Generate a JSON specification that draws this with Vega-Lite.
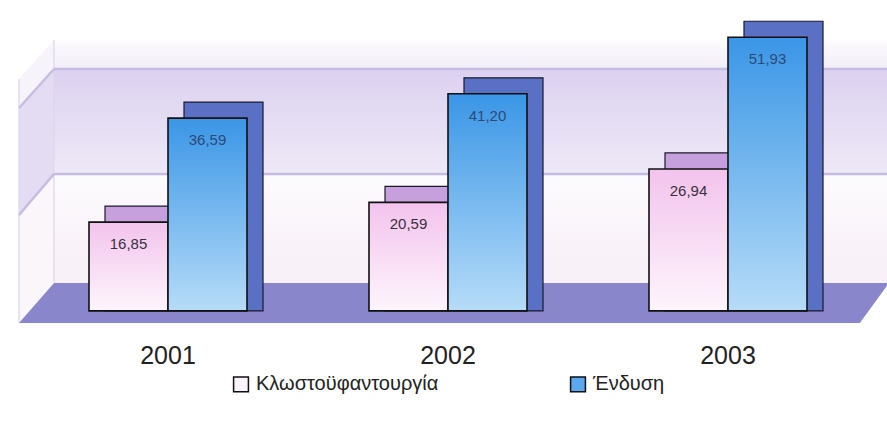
{
  "$schema": "https://vega.github.io/schema/vega-lite/v6.json",
  "width": 858,
  "height": 332,
  "padding": {"left": 17, "top": 0, "right": 12, "bottom": 0},
  "background": "white",
  "config": {
    "view": {"stroke": null},
    "font": "Liberation Sans",
    "locale": {"number": {"decimal": ",", "thousands": ".", "grouping": [3], "currency": ["", " €"]}}
  },
  "datasets": {
    "bars": [
      {"year": "2001", "series": "Κλωστοϋφαντουργία", "value": 16.85},
      {"year": "2001", "series": "Ένδυση", "value": 36.59},
      {"year": "2002", "series": "Κλωστοϋφαντουργία", "value": 20.59},
      {"year": "2002", "series": "Ένδυση", "value": 41.20},
      {"year": "2003", "series": "Κλωστοϋφαντουργία", "value": 26.94},
      {"year": "2003", "series": "Ένδυση", "value": 51.93}
    ],
    "floor": [
      {"fx": 0, "lo": -2.27, "hi": -2.27},
      {"fx": 4.08, "lo": -2.27, "hi": 5.3},
      {"fx": 98.0, "lo": -2.27, "hi": 5.3},
      {"fx": 101.4, "lo": 5.3, "hi": 5.3}
    ],
    "gridlines": [
      {"x": 4.08, "x2": 101.4, "y": 45.9, "y2": 45.9},
      {"x": 4.08, "x2": 101.4, "y": 26.0, "y2": 26.0},
      {"x": 0, "x2": 4.08, "y": 38.5, "y2": 45.9},
      {"x": 0, "x2": 4.08, "y": 18.2, "y2": 26.0}
    ],
    "edges": [
      {"x": 0, "x2": 0, "y": -2.27, "y2": 44.0},
      {"x": 4.08, "x2": 4.08, "y": 5.3, "y2": 51.4}
    ]
  },
  "layer": [
    {
      "encoding": {
        "x": {"type": "quantitative", "scale": {"domain": [0, 100], "nice": false, "zero": false}, "axis": null},
        "y": {"type": "quantitative", "scale": {"domain": [-4, 59], "nice": false, "zero": false}, "axis": null}
      },
      "layer": [
        {
          "data": {"values": [{"x": 4.08, "x2": 101.4, "y": 5.3, "y2": 26.0}]},
          "mark": {"type": "rect", "fill": {"gradient": "linear", "x1": 0, "y1": 0, "x2": 0, "y2": 1, "stops": [{"offset": 0, "color": "#fcfbfd"}, {"offset": 1, "color": "#f8eff7"}]}},
          "encoding": {"x": {"field": "x"}, "x2": {"field": "x2"}, "y": {"field": "y"}, "y2": {"field": "y2"}}
        },
        {
          "data": {"values": [{"x": 4.08, "x2": 101.4, "y": 26.0, "y2": 45.9}]},
          "mark": {"type": "rect", "fill": {"gradient": "linear", "x1": 0, "y1": 0, "x2": 0, "y2": 1, "stops": [{"offset": 0, "color": "#dcd1f0"}, {"offset": 1, "color": "#eee9f7"}]}},
          "encoding": {"x": {"field": "x"}, "x2": {"field": "x2"}, "y": {"field": "y"}, "y2": {"field": "y2"}}
        },
        {
          "data": {"values": [{"x": 4.08, "x2": 101.4, "y": 45.9, "y2": 51.4}]},
          "mark": {"type": "rect", "fill": {"gradient": "linear", "x1": 0, "y1": 0, "x2": 0, "y2": 1, "stops": [{"offset": 0, "color": "#fdfcfe"}, {"offset": 1, "color": "#f1edf8"}]}},
          "encoding": {"x": {"field": "x"}, "x2": {"field": "x2"}, "y": {"field": "y"}, "y2": {"field": "y2"}}
        },
        {
          "data": {"values": [{"fx": 0, "lo": -2.27, "hi": 18.2}, {"fx": 4.08, "lo": 5.3, "hi": 26.0}]},
          "mark": {"type": "area", "color": "#faf6fa"},
          "encoding": {"x": {"field": "fx"}, "y": {"field": "lo"}, "y2": {"field": "hi"}}
        },
        {
          "data": {"values": [{"fx": 0, "lo": 18.2, "hi": 38.5}, {"fx": 4.08, "lo": 26.0, "hi": 45.9}]},
          "mark": {"type": "area", "color": "#e4dcf3"},
          "encoding": {"x": {"field": "fx"}, "y": {"field": "lo"}, "y2": {"field": "hi"}}
        },
        {
          "data": {"values": [{"fx": 0, "lo": 38.5, "hi": 44.0}, {"fx": 4.08, "lo": 45.9, "hi": 51.4}]},
          "mark": {"type": "area", "color": "#f6f3fa"},
          "encoding": {"x": {"field": "fx"}, "y": {"field": "lo"}, "y2": {"field": "hi"}}
        },
        {
          "data": {"name": "edges"},
          "mark": {"type": "rule", "color": "#dcd6e8", "strokeWidth": 1.2},
          "encoding": {"x": {"field": "x"}, "x2": {"field": "x2"}, "y": {"field": "y"}, "y2": {"field": "y2"}}
        },
        {
          "data": {"name": "gridlines"},
          "mark": {"type": "rule", "color": "#c6bde2", "strokeWidth": 2.5},
          "encoding": {"x": {"field": "x"}, "x2": {"field": "x2"}, "y": {"field": "y"}, "y2": {"field": "y2"}}
        },
        {
          "data": {"name": "floor"},
          "mark": {"type": "area", "color": "#8a86cb", "opacity": 1},
          "encoding": {"x": {"field": "fx"}, "y": {"field": "lo"}, "y2": {"field": "hi"}}
        }
      ]
    },
    {
      "data": {"name": "bars"},
      "encoding": {
        "x": {
          "field": "year", "type": "nominal",
          "scale": {"paddingInner": 0.4357, "paddingOuter": 0.25},
          "axis": {"title": null, "domain": false, "ticks": false, "labelAngle": 0, "labelFontSize": 25, "labelColor": "#222222", "labelPadding": 11, "labelFont": "Liberation Sans"}
        },
        "y": {"field": "value", "type": "quantitative", "scale": {"domain": [-4, 59], "nice": false, "zero": false}, "axis": null},
        "y2": {"datum": 0}
      },
      "layer": [
        {
          "transform": [{"filter": "datum.series === 'Κλωστοϋφαντουργία'"}],
          "mark": {"type": "bar", "width": {"band": 0.5}, "xOffset": -23.5, "yOffset": -16, "fill": "#c6a0dc", "stroke": "#1a1a2a", "strokeWidth": 1.2}
        },
        {
          "transform": [{"filter": "datum.series === 'Ένδυση'"}],
          "mark": {"type": "bar", "width": {"band": 0.5}, "xOffset": 55.5, "yOffset": -16, "fill": "#5a70c4", "stroke": "#1a1a2a", "strokeWidth": 1.2}
        },
        {
          "mark": {"type": "bar"},
          "encoding": {
            "xOffset": {"field": "series", "type": "nominal", "scale": {"domain": ["Κλωστοϋφαντουργία", "Ένδυση"], "paddingInner": 0, "paddingOuter": 0}},
            "color": {
              "field": "series", "type": "nominal",
              "scale": {"domain": ["Κλωστοϋφαντουργία", "Ένδυση"], "range": ["#fcf2fb", "#5aa8ee"]},
              "legend": {"title": null, "orient": "none", "legendX": 212, "legendY": 374, "direction": "horizontal", "symbolType": "square", "symbolSize": 220, "symbolStrokeColor": "#111111", "symbolStrokeWidth": 1.5, "labelFontSize": 20, "labelLimit": 400, "labelFont": "Liberation Sans", "labelColor": "#222222", "columnPadding": 128, "labelOffset": 5}
            }
          }
        },
        {
          "transform": [{"filter": "datum.series === 'Κλωστοϋφαντουργία'"}],
          "mark": {"type": "bar", "stroke": "#111111", "strokeWidth": 1.6, "fill": {"gradient": "linear", "x1": 0, "y1": 0, "x2": 0, "y2": 1, "stops": [{"offset": 0, "color": "#f3c3ed"}, {"offset": 1, "color": "#fdf5fc"}]}},
          "encoding": {"xOffset": {"field": "series", "type": "nominal"}}
        },
        {
          "transform": [{"filter": "datum.series === 'Ένδυση'"}],
          "mark": {"type": "bar", "stroke": "#111111", "strokeWidth": 1.6, "fill": {"gradient": "linear", "x1": 0, "y1": 0, "x2": 0, "y2": 1, "stops": [{"offset": 0, "color": "#3a96e6"}, {"offset": 1, "color": "#b6dcf8"}]}},
          "encoding": {"xOffset": {"field": "series", "type": "nominal"}}
        },
        {
          "transform": [{"filter": "datum.series === 'Κλωστοϋφαντουργία'"}],
          "mark": {"type": "text", "baseline": "middle", "dy": 22, "fontSize": 15, "color": "#3a3040", "font": "Liberation Sans"},
          "encoding": {"xOffset": {"field": "series", "type": "nominal"}, "text": {"field": "value", "type": "quantitative", "format": ".2f"}, "y2": null}
        },
        {
          "transform": [{"filter": "datum.series === 'Ένδυση'"}],
          "mark": {"type": "text", "baseline": "middle", "dy": 22, "fontSize": 15, "color": "#2c4a78", "font": "Liberation Sans"},
          "encoding": {"xOffset": {"field": "series", "type": "nominal"}, "text": {"field": "value", "type": "quantitative", "format": ".2f"}, "y2": null}
        }
      ]
    }
  ],
  "resolve": {"scale": {"x": "independent"}, "axis": {"x": "independent"}}
}
